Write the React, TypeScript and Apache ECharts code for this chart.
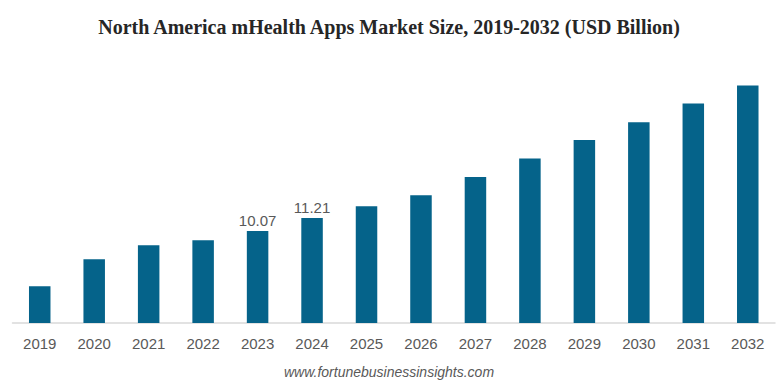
import React, { useEffect, useRef } from "react";
import * as echarts from "echarts";

const years = ["2019","2020","2021","2022","2023","2024","2025","2026","2027","2028","2029","2030","2031","2032"];
const values = [5.22, 7.59, 8.82, 9.25, 10.07, 11.21, 12.24, 13.2, 14.8, 16.42, 18.03, 19.6, 21.25, 22.82];
const labeledYears = ["2023", "2024"];
const titleText = "North America mHealth Apps Market Size, 2019-2032 (USD Billion)";
const sourceText = "www.fortunebusinessinsights.com";

export default function App() {
  const ref = useRef<HTMLDivElement>(null);
  useEffect(() => {
    const chart = echarts.init(ref.current!, null, { renderer: "svg" });
    chart.setOption({
      animation: false,
      backgroundColor: "#ffffff",
      title: {
        text: titleText,
        left: "center",
        top: 12,
        textStyle: { fontFamily: "Liberation Serif", fontWeight: "bold", fontSize: 20, color: "#262626" },
      },
      graphic: [
        {
          type: "text",
          left: "center",
          top: 365,
          style: { text: sourceText, fontFamily: "Liberation Sans", fontStyle: "italic", fontSize: 14, fill: "#595959" },
        },
      ],
      grid: { left: 12.5, right: 3, top: 72, bottom: 64 },
      xAxis: {
        type: "category",
        data: years,
        axisLine: { lineStyle: { color: "#d9d9d9", width: 1.5 } },
        axisTick: { show: false },
        axisLabel: { color: "#595959", fontSize: 15, fontFamily: "Liberation Sans", margin: 13 },
      },
      yAxis: {
        type: "value",
        min: 2,
        max: 24,
        show: false,
        splitLine: { show: false },
      },
      series: [
        {
          type: "bar",
          data: values.map((v, i) => ({
            value: v,
            label: {
              show: labeledYears.includes(years[i]),
              position: "top",
              distance: 3,
              color: "#595959",
              fontSize: 15,
              fontFamily: "Liberation Sans",
            },
          })),
          barWidth: 21.5,
          itemStyle: { color: "#05638a" },
        },
      ],
    });
    return () => chart.dispose();
  }, []);
  return <div ref={ref} style={{ position: "fixed", left: 0, top: 0, width: 778, height: 387 }} />;
}
